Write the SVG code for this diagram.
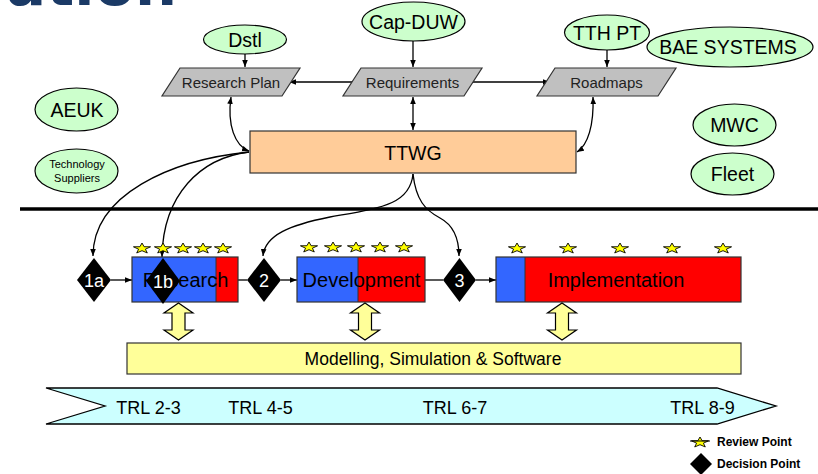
<svg xmlns="http://www.w3.org/2000/svg" xmlns:xlink="http://www.w3.org/1999/xlink" width="818" height="474" viewBox="0 0 818 474">
<style>
text{font-family:"Liberation Sans",Arial,sans-serif;fill:#000}
.ell{fill:#ccffcc;stroke:#000;stroke-width:1.2}
.para{fill:#c0c0c0;stroke:#333;stroke-width:1.2}
.conn{fill:none;stroke:#000;stroke-width:1.3}
.lbl19{font-size:19.5px;text-anchor:middle}
.lbl15{font-size:15px;text-anchor:middle;fill:#222}
.lbl20{font-size:20px;text-anchor:middle}
.dia{fill:#000}
.dtxt{font-size:18px;text-anchor:middle;fill:#fff}
.blue{fill:#3366ff}
.red{fill:#ff0000}
.boxline{fill:none;stroke:#333;stroke-width:1.2}
.star{fill:#ffff00;stroke:#000;stroke-width:0.9}
.dbl{fill:#ffff99;stroke:#000;stroke-width:1.2}
.trl{font-size:18px;text-anchor:middle}
.leg{font-size:12px;font-weight:bold}
</style>
<defs>
<marker id="ah" viewBox="0 0 10 10" refX="10" refY="5" markerWidth="7" markerHeight="7" markerUnits="userSpaceOnUse" orient="auto-start-reverse">
<path d="M0,1 L10,5 L0,9 Z" fill="#000"/>
</marker>
<path id="star" d="M0,-5.5 L2.12,-1.78 L8.56,-1.7 L3.42,0.68 L5.29,4.45 L0,2.2 L-5.29,4.45 L-3.42,0.68 L-8.56,-1.7 L-2.12,-1.78 Z"/>
<path id="dblarrow" d="M0,303 L14.5,313 L6.5,313 L6.5,330 L14.5,330 L0,340 L-14.5,330 L-6.5,330 L-6.5,313 L-14.5,313 Z"/>
</defs>

<text x="177" y="5" font-weight="bold" font-size="59" text-anchor="end" style="font-family:'DejaVu Sans',sans-serif;fill:#1b3a66">ation</text>

<g id="connectors">
<path class="conn" d="M245,54 L245,67" marker-end="url(#ah)"/>
<path class="conn" d="M413,40 L413,67" marker-end="url(#ah)"/>
<path class="conn" d="M607,50 L607,67" marker-end="url(#ah)"/>
<path class="conn" d="M355,82 L289,82" marker-end="url(#ah)"/>
<path class="conn" d="M468,82 L550,82" marker-end="url(#ah)"/>
<path class="conn" d="M413,97 L413,130" marker-start="url(#ah)" marker-end="url(#ah)"/>
<path class="conn" d="M231,97 C227,125 235,146 249,151" marker-start="url(#ah)" marker-end="url(#ah)"/>
<path class="conn" d="M593,97 C594,125 588,145 577,152" marker-start="url(#ah)" marker-end="url(#ah)"/>
<path class="conn" d="M249,152 C170,160 93,195 93,256" marker-end="url(#ah)"/>
<path class="conn" d="M249,152 C200,158 163,195 162,257" marker-end="url(#ah)"/>
<path class="conn" d="M413,174 C410,205 380,208 330,217 C290,225 265,235 263,256" marker-end="url(#ah)"/>
<path class="conn" d="M413,174 C416,200 425,210 440,218 C455,226 459,240 459,256" marker-end="url(#ah)"/>
<path class="conn" d="M111,280 L132,280" marker-end="url(#ah)"/>
<path class="conn" d="M238,280 L247,280"/>
<path class="conn" d="M281,280 L297,280" marker-end="url(#ah)"/>
<path class="conn" d="M425,280 L443,280"/>
<path class="conn" d="M476,280 L496,280" marker-end="url(#ah)"/>
<line x1="20" y1="209" x2="818" y2="209" stroke="#000" stroke-width="3.5"/>
</g>

<g id="dstl"><ellipse class="ell" cx="245" cy="39.5" rx="41.5" ry="14.5"/><text class="lbl19" x="245" y="46.5">Dstl</text></g>
<g id="cap-duw"><ellipse class="ell" cx="413.5" cy="21.5" rx="51.5" ry="19.5"/><text class="lbl19" x="413.5" y="28.5">Cap-DUW</text></g>
<g id="tth-pt"><ellipse class="ell" cx="607" cy="32.5" rx="42.5" ry="17.5"/><text class="lbl19" x="607" y="39.5">TTH PT</text></g>
<g id="bae"><ellipse class="ell" cx="730" cy="47" rx="83" ry="20"/><text class="lbl19" x="728" y="54">BAE SYSTEMS</text></g>
<g id="aeuk"><ellipse class="ell" cx="76.5" cy="109.5" rx="41.5" ry="21.5"/><text class="lbl19" x="77" y="116.5">AEUK</text></g>
<g id="tech"><ellipse class="ell" cx="76.5" cy="171" rx="41.5" ry="22"/><text x="77" y="168" style="font-size:11px;text-anchor:middle">Technology</text><text x="77" y="182" style="font-size:11px;text-anchor:middle">Suppliers</text></g>
<g id="mwc"><ellipse class="ell" cx="734.5" cy="125" rx="41.5" ry="21"/><text class="lbl19" x="734.5" y="132">MWC</text></g>
<g id="fleet"><ellipse class="ell" cx="732.5" cy="174" rx="41.5" ry="21"/><text class="lbl19" x="732.5" y="181">Fleet</text></g>

<g id="research-plan"><polygon class="para" points="180,68 300,68 282,96 162,96"/><text class="lbl15" x="231" y="87.5">Research Plan</text></g>
<g id="requirements"><polygon class="para" points="361,68 482,68 464,96 343,96"/><text class="lbl15" x="412.5" y="87.5">Requirements</text></g>
<g id="roadmaps"><polygon class="para" points="555,68 676,68 658,96 537,96"/><text class="lbl15" x="606.5" y="87.5">Roadmaps</text></g>

<g id="ttwg"><rect x="250" y="131" width="326" height="42" fill="#ffcc99" stroke="#333" stroke-width="1.2"/><text class="lbl19" x="413" y="160">TTWG</text></g>

<g id="research">
<rect class="blue" x="132" y="257" width="84" height="45"/><rect class="red" x="216" y="257" width="22" height="45"/>
<line x1="216" y1="257" x2="216" y2="302" stroke="#333" stroke-width="1"/>
<rect class="boxline" x="132" y="257" width="106" height="45"/>
<text class="lbl20" x="185.5" y="287">Research</text>
<use href="#star" class="star" x="142" y="248.5"/><use href="#star" class="star" x="163" y="248.5"/><use href="#star" class="star" x="183" y="248.5"/><use href="#star" class="star" x="203" y="248.5"/><use href="#star" class="star" x="223" y="248.5"/>
</g>
<g id="development">
<rect class="blue" x="297" y="257" width="61" height="45"/><rect class="red" x="358" y="257" width="67" height="45"/>
<line x1="358" y1="257" x2="358" y2="302" stroke="#333" stroke-width="1"/>
<rect class="boxline" x="297" y="257" width="128" height="45"/>
<text class="lbl20" x="361.5" y="287">Development</text>
<use href="#star" class="star" x="309" y="247.5"/><use href="#star" class="star" x="333" y="247.5"/><use href="#star" class="star" x="356" y="247.5"/><use href="#star" class="star" x="380" y="247.5"/><use href="#star" class="star" x="404" y="247.5"/>
</g>
<g id="implementation">
<rect class="blue" x="496" y="257" width="29" height="45"/><rect class="red" x="525" y="257" width="216" height="45"/>
<line x1="525" y1="257" x2="525" y2="302" stroke="#333" stroke-width="1"/>
<rect class="boxline" x="496" y="257" width="245" height="45"/>
<text class="lbl20" x="616" y="287">Implementation</text>
<use href="#star" class="star" x="517" y="248.5"/><use href="#star" class="star" x="568" y="248.5"/><use href="#star" class="star" x="620" y="248.5"/><use href="#star" class="star" x="672" y="248.5"/><use href="#star" class="star" x="723" y="248.5"/>
</g>

<g id="d1a"><polygon class="dia" points="94,258 111,280 94,302 77,280"/><text class="dtxt" x="94" y="286.5">1a</text></g>
<g id="d1b"><polygon class="dia" points="163,258 180,281 163,304 146,281"/><text class="dtxt" x="163" y="287.5">1b</text></g>
<g id="d2"><polygon class="dia" points="264,258 281,280 264,302 247,280"/><text class="dtxt" x="264" y="286.5">2</text></g>
<g id="d3"><polygon class="dia" points="459.5,258 476,280 459.5,302 443,280"/><text class="dtxt" x="459.5" y="286.5">3</text></g>

<g id="links-ms">
<use href="#dblarrow" class="dbl" x="178.5" y="0"/>
<use href="#dblarrow" class="dbl" x="365" y="0"/>
<use href="#dblarrow" class="dbl" x="562" y="0"/>
</g>

<g id="modelling"><rect x="127" y="343" width="614" height="31" fill="#ffff99" stroke="#333" stroke-width="1.2"/><text x="433" y="364.5" style="font-size:17.5px;text-anchor:middle">Modelling, Simulation &amp; Software</text></g>

<g id="trl">
<polygon points="46,388 717,388 776,406 717,424 46,424 105,406" fill="#ccffff" stroke="#000" stroke-width="1.3"/>
<text class="trl" x="148.5" y="414">TRL 2-3</text>
<text class="trl" x="260.5" y="414">TRL 4-5</text>
<text class="trl" x="455" y="414">TRL 6-7</text>
<text class="trl" x="702.5" y="414">TRL 8-9</text>
</g>

<g id="legend">
<use href="#star" class="star" x="700" y="442.5"/>
<line x1="690" y1="441" x2="710" y2="441" stroke="#000" stroke-width="1"/>
<text class="leg" x="717" y="446">Review Point</text>
<polygon class="dia" points="701,453 712,464 701,475 690,464"/>
<text class="leg" x="717" y="468">Decision Point</text>
</g>
</svg>
